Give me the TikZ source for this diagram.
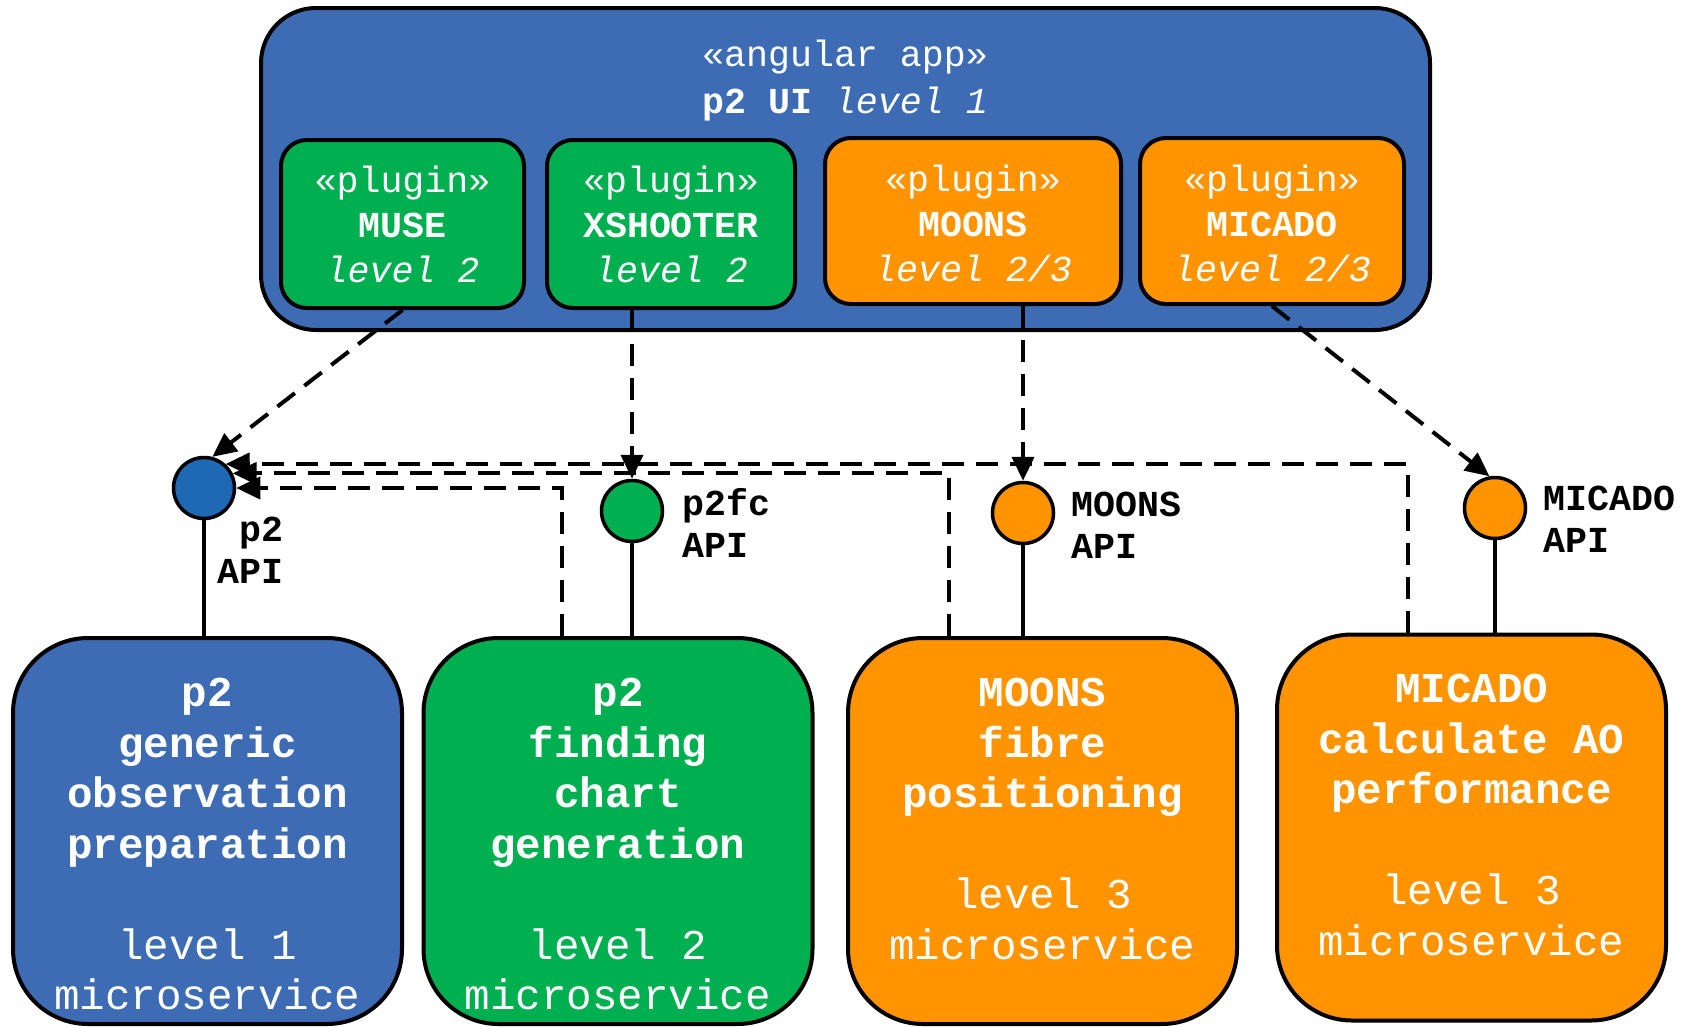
\documentclass[tikz,border=0pt]{standalone}
\usepackage{fontspec}
\setmainfont{Liberation Mono}
\usetikzlibrary{arrows.meta}
\definecolor{appblue}{HTML}{3D6CB4}
\definecolor{apiblue}{HTML}{1F69B4}
\definecolor{plgreen}{HTML}{00AF50}
\definecolor{plorange}{HTML}{FF9400}
\begin{document}
\begin{tikzpicture}[x=1pt,y=-1pt,
  box/.style={draw=black, line width=4pt, inner sep=0pt},
  container/.style={box, fill=appblue, rounded corners=55pt},
  plugin/.style={box, rounded corners=26pt, minimum height=168pt},
  service/.style={box, rounded corners=75pt, minimum width=389pt, minimum height=386pt},
  api/.style={draw=black, line width=3.5pt, circle, inner sep=0pt, minimum size=61pt},
  txt/.style={text=white, align=center, inner sep=0pt, anchor=north},
  toptxt/.style={txt, font={\fontsize{36.6}{47}\selectfont}},
  plugtxt/.style={txt, font={\fontsize{36.6}{45}\selectfont}},
  svctxt/.style={txt, font={\fontsize{42.5}{50.5}\selectfont}},
  apilabel/.style={inner sep=0pt, font={\fontsize{36.6}{42}\selectfont\bfseries}},
  dep/.style={line width=4pt, dash pattern=on 22pt off 12pt, -{Triangle[length=24pt,width=22pt]}},
  lnk/.style={line width=3.2pt}]
\useasboundingbox (0,0) rectangle (1692,1026);

% container
\node[container, minimum width=1169pt, minimum height=322pt] (app) at (845.5,169) {};
\node[toptxt] (apptxt) at (845,40) {«angular app»\\\textbf{p2 UI} \textit{level 1}};

% plugins
\node[plugin, fill=plgreen, minimum width=243pt] (muse) at (402.5,224) {};
\node[plugin, fill=plgreen, minimum width=248pt] (xsh) at (671,224) {};
\node[plugin, fill=plorange, minimum width=296pt, minimum height=166pt] (moonsp) at (973,221) {};
\node[plugin, fill=plorange, minimum width=264pt, minimum height=166pt] (micadop) at (1272,221) {};
\node[plugtxt] (musetxt) at (402.5,166) {«plugin»\\\textbf{MUSE}\\\textit{level 2}};
\node[plugtxt] (xshtxt) at (671,166) {«plugin»\\\textbf{XSHOOTER}\\\textit{level 2}};
\node[plugtxt] (moonsptxt) at (973,165) {«plugin»\\\textbf{MOONS}\\\textit{level 2/3}};
\node[plugtxt] (micadoptxt) at (1272,165) {«plugin»\\\textbf{MICADO}\\\textit{level 2/3}};

% services
\node[service, fill=appblue] (b1) at (207.5,831) {};
\node[service, fill=plgreen] (b2) at (618,831) {};
\node[service, fill=plorange] (b3) at (1042.5,831) {};
\node[service, fill=plorange] (b4) at (1471.5,827.5) {};
\node[svctxt] (b1txt) at (207.5,678) {\textbf{p2}\\\textbf{generic}\\\textbf{observation}\\\textbf{preparation}\\[50.5pt]level 1\\microservice};
\node[svctxt] (b2txt) at (618,678) {\textbf{p2}\\\textbf{finding}\\\textbf{chart}\\\textbf{generation}\\[50.5pt]level 2\\microservice};
\node[svctxt] (b3txt) at (1042.5,678) {\textbf{MOONS}\\\textbf{fibre}\\\textbf{positioning}\\[50.5pt]level 3\\microservice};
\node[svctxt] (b4txt) at (1471.5,674) {\textbf{MICADO}\\\textbf{calculate AO}\\\textbf{performance}\\[50.5pt]level 3\\microservice};

% api circles
\coordinate (c1) at (204,488);
\coordinate (c2) at (632,511);
\coordinate (c3) at (1023,513);
\coordinate (c4) at (1495,508);
\draw[lnk] (c1) -- (c1 |- b1.north);
\draw[lnk] (c2) -- (c2 |- b2.north);
\draw[lnk] (c3) -- (c3 |- b3.north);
\draw[lnk] (c4) -- (c4 |- b4.north);
\node[api, fill=apiblue] (p2api) at (c1) {};
\node[api, fill=plgreen] (p2fcapi) at (c2) {};
\node[api, fill=plorange] (moonsapi) at (c3) {};
\node[api, fill=plorange] (micadoapi) at (c4) {};

% api labels
\node[apilabel, anchor=north east, align=right] (l1) at (284,517) {p2\\API};
\node[apilabel, anchor=north west, align=left] (l2) at (682,488) {p2fc\\API};
\node[apilabel, anchor=north west, align=left] (l3) at (1071,492) {MOONS\\API};
\node[apilabel, anchor=north west, align=left] (l4) at (1543,486) {MICADO\\API};

% dependencies
\draw[dep] (muse.south) -- (p2api.75);
\draw[dep] (p2fcapi |- xsh.south) -- (p2fcapi.north);
\draw[dep] (moonsapi |- moonsp.south) -- (moonsapi.north);
\draw[dep] (micadop.south) -- (micadoapi.100);
\draw[dep] ([xshift=-56pt]b2.north) |- (p2api.east);
\draw[dep] ([xshift=-93.5pt]b3.north) |- (p2api.27);
\draw[dep] ([xshift=-63.5pt]b4.north) |- (p2api.48);
\end{tikzpicture}
\end{document}
